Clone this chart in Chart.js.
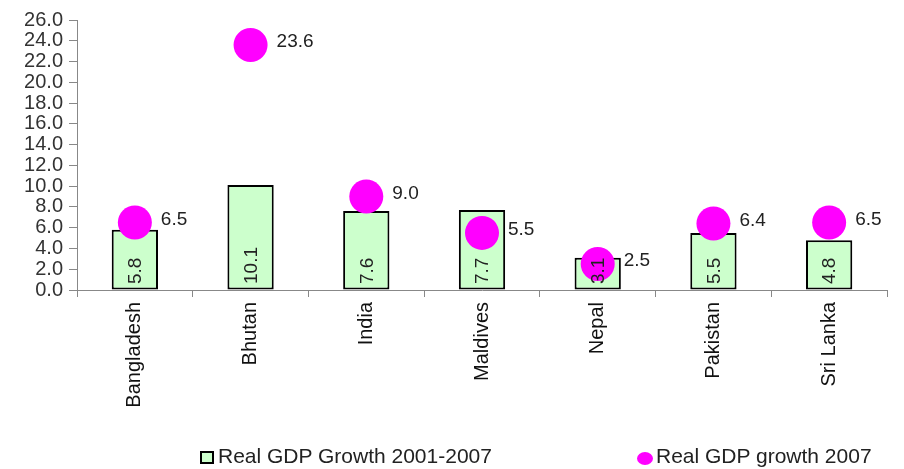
<!DOCTYPE html>
<html>
<head>
<meta charset="utf-8">
<script src="https://cdn.jsdelivr.net/npm/chart.js@4/dist/chart.umd.min.js"></script>
<style>
  body { margin: 0; background: #fff; font-family: "Liberation Sans", Arial, sans-serif; }
  #wrap { position: relative; width: 904px; height: 469px; }
  .leg { position: absolute; top: 444px; font-size: 21px; line-height: 24px; color: #222; white-space: nowrap; }
  .box { display: inline-block; width: 10px; height: 9px; border: 2px solid #000; background: #ccffcc; vertical-align: -1px; margin-right: 4px; }
  .dot { display: inline-block; width: 16px; height: 13px; border-radius: 50%; background: #ff00ff; vertical-align: -2px; margin-right: 3px; }
</style>
</head>
<body>
<div id="wrap">
  <canvas id="gdp" width="904" height="469"></canvas>
  <div class="leg" style="left:200px"><span class="box"></span>Real GDP Growth 2001-2007</div>
  <div class="leg" style="left:637px"><span class="dot"></span>Real GDP growth 2007</div>
</div>
<script>
const countries = ["Bangladesh", "Bhutan", "India", "Maldives", "Nepal", "Pakistan", "Sri Lanka"];
const growth0107 = [5.8, 10.1, 7.6, 7.7, 3.1, 5.5, 4.8];
const growth2007 = [6.5, 23.6, 9.0, 5.5, 2.5, 6.4, 6.5];
const yTicks = [0, 2, 4, 6, 8, 10, 12, 14, 16, 18, 20, 22, 24, 26];

const FONT = "'Liberation Sans', Arial, sans-serif";

// value labels: rotated inside bars, right of the circles
const valueLabels = {
  id: "valueLabels",
  afterDatasetsDraw(chart) {
    const ctx = chart.ctx;
    const bars = chart.getDatasetMeta(0).data;
    const dots = chart.getDatasetMeta(1).data;
    const base = chart.scales.y.getPixelForValue(0);
    ctx.save();
    ctx.fillStyle = "#222";
    ctx.font = "19px " + FONT;
    bars.forEach((b, i) => {
      ctx.save();
      ctx.translate(b.x, base - 6);
      ctx.rotate(-Math.PI / 2);
      ctx.textAlign = "left";
      ctx.textBaseline = "middle";
      ctx.fillText(growth0107[i].toFixed(1), 0, 1);
      ctx.restore();
    });
    dots.forEach((p, i) => {
      ctx.textAlign = "left";
      ctx.textBaseline = "middle";
      ctx.fillText(growth2007[i].toFixed(1), p.x + 26, p.y - 3);
    });
    ctx.restore();
  }
};

new Chart(document.getElementById("gdp"), {
  data: {
    labels: countries,
    datasets: [
      {
        type: "bar",
        label: "Real GDP Growth 2001-2007",
        data: growth0107,
        backgroundColor: "#ccffcc",
        borderColor: "#000",
        borderWidth: 2,
        borderSkipped: false,
        barPercentage: 0.4,
        categoryPercentage: 1,
        order: 2,
      },
      {
        type: "line",
        label: "Real GDP growth 2007",
        data: growth2007,
        showLine: false,
        pointRadius: 17,
        pointHoverRadius: 17,
        pointBackgroundColor: "#ff00ff",
        pointBorderWidth: 0,
        order: 1,
      },
    ],
  },
  plugins: [valueLabels],
  options: {
    responsive: false,
    animation: false,
    layout: { padding: { top: 20, right: 7, bottom: 0, left: 0 } },
    plugins: { legend: { display: false }, tooltip: { enabled: false } },
    scales: {
      x: {
        afterFit: (s) => { s.height = 179; },
        grid: { offset: true, drawOnChartArea: false, tickLength: 7, color: "#888" },
        border: { color: "#888", width: 1 },
        ticks: {
          minRotation: 90, maxRotation: 90, color: "#111", padding: 5,
          font: { family: FONT, size: 20 },
        },
      },
      y: {
        min: 0, max: 26,
        afterBuildTicks: (s) => { s.ticks = yTicks.map((v) => ({ value: v })); },
        afterFit: (s) => { s.width = 77; },
        grid: { drawOnChartArea: false, tickLength: 8, color: "#888" },
        border: { color: "#888", width: 1 },
        ticks: {
          autoSkip: false,
          color: "#333", padding: 6,
          font: { family: FONT, size: 20 },
          callback: (v) => Number(v).toFixed(1),
        },
      },
    },
  },
});
</script>
</body>
</html>
